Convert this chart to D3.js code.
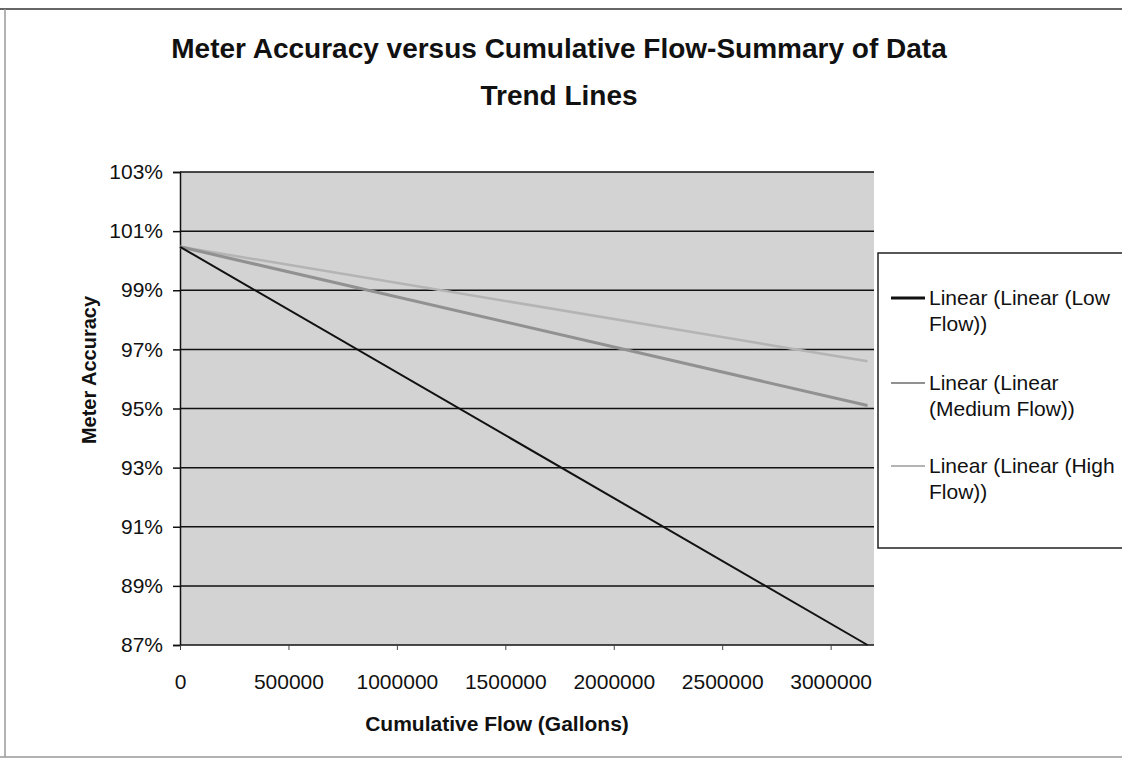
<!DOCTYPE html>
<html>
<head>
<meta charset="utf-8">
<script src="https://cdn.jsdelivr.net/npm/d3@7"></script>
<style>
  body { margin: 0; background: #fff; }
  svg { display: block; font-family: "Liberation Sans", Arial, sans-serif; }
</style>
</head>
<body>
<script>
// trend lines: start and end points
const seriesNames = ['Linear (Linear (Low Flow))', 'Linear (Linear (Medium Flow))', 'Linear (Linear (High Flow))']
const legendLines = [['Linear (Linear (Low', 'Flow))'], ['Linear (Linear', '(Medium Flow))'], ['Linear (Linear (High', 'Flow))']]
const flowX = [0, 3170000]
const lowFlow = [1.0047, 0.870]
const mediumFlow = [1.0047, 0.951]
const highFlow = [1.0047, 0.966]
const yTicks = [0.87, 0.89, 0.91, 0.93, 0.95, 0.97, 0.99, 1.01, 1.03]
const xTicks = [0, 500000, 1000000, 1500000, 2000000, 2500000, 3000000]

const W = 1122, H = 759
const m = { left: 180, right: 874, top: 172, bottom: 645 }

const svg = d3.select('body').append('svg')
    .attr('width', W)
    .attr('height', H)

// outer frame
svg.append('path')
    .attr('d', `M0,9 H${W}`)
    .attr('stroke', '#333')
    .attr('stroke-width', 1.5)
svg.append('path')
    .attr('d', `M5,9 V757 M0,757 H${W}`)
    .attr('fill', 'none')
    .attr('stroke', '#999')
    .attr('stroke-width', 1.5)

const x = d3.scaleLinear().domain([0, 3200000]).range([m.left, m.right])
const y = d3.scaleLinear().domain([0.87, 1.03]).range([m.bottom, m.top])

// plot area
svg.append('rect')
    .attr('x', m.left).attr('y', m.top)
    .attr('width', m.right - m.left).attr('height', m.bottom - m.top)
    .attr('fill', '#d3d3d3')

// grid
svg.append('g')
    .selectAll('line')
    .data(yTicks.slice(1))
    .enter()
    .append('line')
        .attr('x1', m.left).attr('x2', m.right)
        .attr('y1', d => y(d)).attr('y2', d => y(d))
        .attr('stroke', '#111')
        .attr('stroke-width', 1.5)

const yAxis = svg.append('g')
    .attr('transform', `translate(${m.left},0)`)
    .call(d3.axisLeft(y).tickValues(yTicks).tickFormat(d3.format('.0%')).tickSize(7).tickPadding(10))
yAxis.select('.domain').attr('stroke', '#111').attr('stroke-width', 1.5)
yAxis.selectAll('.tick line').attr('stroke', '#111').attr('stroke-width', 1.5)
yAxis.selectAll('text').attr('font-size', 21).attr('fill', '#111').attr('font-family', '"Liberation Sans", Arial')

const xAxis = svg.append('g')
    .attr('transform', `translate(0,${m.bottom})`)
    .call(d3.axisBottom(x).tickValues(xTicks).tickFormat(d3.format('d')).tickSize(5).tickPadding(24))
xAxis.select('.domain').attr('stroke', '#111').attr('stroke-width', 1.5).attr('d', `M${m.left},0H${m.right}`)
xAxis.selectAll('.tick line').attr('stroke', '#444')
xAxis.selectAll('text').attr('font-size', 21).attr('fill', '#111').attr('font-family', '"Liberation Sans", Arial')

// trend lines
const lines = [
    { vals: highFlow, color: '#b4b4b4', w: 2.5 },
    { vals: mediumFlow, color: '#919191', w: 3 },
    { vals: lowFlow, color: '#111', w: 2 }
]
const line = d3.line().x(d => x(d[0])).y(d => y(d[1]))
svg.append('g')
    .selectAll('path')
    .data(lines)
    .enter()
    .append('path')
        .attr('d', d => line(flowX.map((fx, i) => [fx, d.vals[i]])))
        .attr('fill', 'none')
        .attr('stroke', d => d.color)
        .attr('stroke-width', d => d.w)

// titles
const title = svg.append('text')
    .attr('text-anchor', 'middle')
    .attr('font-weight', 'bold')
    .attr('font-size', 28)
    .attr('fill', '#111')
title.append('tspan').attr('x', 559).attr('y', 58).text('Meter Accuracy versus Cumulative Flow-Summary of Data')
title.append('tspan').attr('x', 559).attr('y', 105).text('Trend Lines')

svg.append('text')
    .attr('x', 497).attr('y', 731)
    .attr('text-anchor', 'middle')
    .attr('font-weight', 'bold')
    .attr('font-size', 21)
    .attr('fill', '#111')
    .text('Cumulative Flow (Gallons)')

svg.append('text')
    .attr('transform', 'translate(96,370) rotate(-90)')
    .attr('text-anchor', 'middle')
    .attr('font-weight', 'bold')
    .attr('font-size', 20)
    .attr('fill', '#111')
    .text('Meter Accuracy')

// legend
const lg = svg.append('g')
lg.append('path')
    .attr('d', `M${W},253 H878 V548 H${W}`)
    .attr('fill', '#fff')
    .attr('stroke', '#222')
    .attr('stroke-width', 1.5)

const legendColors = ['#111', '#919191', '#b4b4b4']
const rowY = [298, 383, 466]
const items = lg.selectAll('.item')
    .data(seriesNames)
    .enter()
    .append('g')
        .attr('transform', (d, i) => `translate(0,${rowY[i]})`)
items.append('line')
    .attr('x1', 891).attr('x2', 925)
    .attr('stroke', (d, i) => legendColors[i])
    .attr('stroke-width', (d, i) => i === 0 ? 3 : 2)
items.append('text')
    .attr('font-size', 21)
    .attr('fill', '#111')
    .selectAll('tspan')
    .data((d, i) => legendLines[i])
    .enter()
    .append('tspan')
        .attr('x', 929)
        .attr('y', (d, j) => 7 + j * 26)
        .text(d => d)
</script>
</body>
</html>
